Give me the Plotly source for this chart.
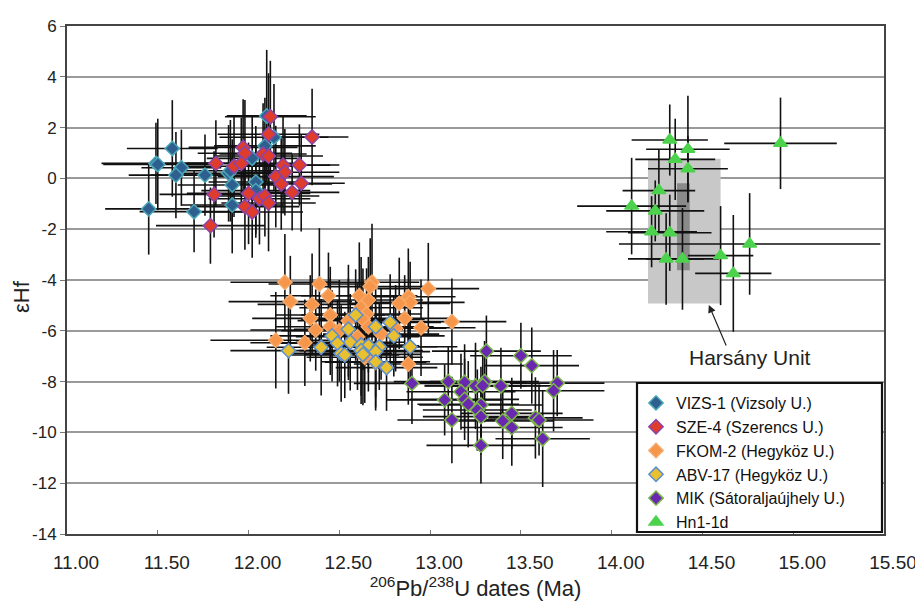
import plotly.graph_objects as go

# ---------------- data ----------------
vizs_x = [12.10, 12.14, 12.09, 12.02, 11.58, 11.49, 11.50, 11.63, 11.60, 11.76, 11.89, 11.90, 11.91, 12.04, 12.04, 11.91, 11.45, 11.70]
vizs_y = [2.46, 1.62, 1.28, 0.79, 1.18, 0.59, 0.55, 0.42, 0.13, 0.13, 0.20, 0.30, -0.26, -0.14, -0.48, -1.05, -1.20, -1.31]
vizs_xe = [0.22, 0.30, 0.28, 0.25, 0.25, 0.30, 0.30, 0.22, 0.26, 0.30, 0.32, 0.28, 0.30, 0.26, 0.30, 0.28, 0.24, 0.30]
vizs_ye = [2.6, 2.1, 1.9, 1.7, 1.9, 1.6, 1.8, 1.5, 1.7, 1.6, 1.9, 2.0, 1.8, 2.2, 1.7, 1.9, 1.8, 1.6]

sze_x = [12.12, 12.35, 12.11, 11.97, 11.98, 12.08, 12.11, 11.82, 11.92, 11.96, 12.19, 12.28, 12.20, 12.15, 12.18, 12.29, 12.24, 11.81, 12.00, 12.06, 12.09, 12.11, 11.98, 12.02, 11.79]
sze_y = [2.43, 1.63, 1.74, 1.22, 0.99, 0.96, 0.88, 0.59, 0.48, 0.59, 0.52, 0.53, 0.24, 0.07, -0.22, -0.19, -0.55, -0.63, -0.59, -0.80, -0.69, -0.97, -1.11, -1.32, -1.86]
sze_xe = [0.25, 0.20, 0.28, 0.30, 0.26, 0.24, 0.30, 0.28, 0.32, 0.30, 0.26, 0.22, 0.30, 0.32, 0.28, 0.24, 0.26, 0.30, 0.34, 0.28, 0.30, 0.26, 0.30, 0.28, 0.30]
sze_ye = [2.2, 1.9, 2.4, 1.9, 2.1, 2.0, 1.6, 1.7, 2.0, 1.8, 1.9, 1.6, 1.7, 2.0, 1.8, 1.9, 1.5, 1.7, 2.0, 1.8, 1.6, 1.9, 1.7, 1.8, 1.5]

fkom_x = [12.20, 12.39, 12.44, 12.23, 12.35, 12.68, 12.67, 12.99, 12.61, 12.66, 12.88, 12.89, 12.83, 12.62, 12.45, 12.34, 12.55,
          12.65, 12.63, 12.86, 12.45, 12.37, 12.50, 12.66, 12.81, 12.95, 12.73, 12.60, 12.15, 12.31, 12.64, 12.88, 12.70, 13.12]
fkom_y = [-4.09, -4.16, -4.62, -4.85, -4.96, -4.09, -4.26, -4.34, -4.62, -4.79, -4.66, -4.88, -4.92, -5.09, -5.38, -5.51, -5.60,
          -5.34, -5.55, -5.51, -5.84, -5.97, -6.00, -5.84, -5.90, -5.88, -6.13, -6.23, -6.37, -6.47, -7.04, -7.31, -7.24, -5.64]
fkom_xe = [0.30, 0.28, 0.32, 0.34, 0.30, 0.26, 0.30, 0.28, 0.32, 0.30, 0.26, 0.30, 0.28, 0.34, 0.30, 0.32, 0.28,
           0.30, 0.34, 0.28, 0.30, 0.36, 0.32, 0.30, 0.28, 0.30, 0.32, 0.34, 0.36, 0.30, 0.32, 0.30, 0.28, 0.30]
fkom_ye = [1.9, 2.2, 1.7, 1.8, 2.0, 2.3, 1.9, 1.8, 2.1, 1.7, 1.9, 1.6, 1.8, 2.0, 1.9, 1.7, 2.2,
           1.8, 2.0, 1.7, 1.9, 1.6, 2.0, 1.8, 1.7, 1.9, 1.8, 2.1, 1.9, 1.7, 1.8, 1.6, 1.9, 1.7]

abv_x = [12.59, 12.78, 12.70, 12.55, 12.46, 12.80, 12.56, 12.49, 12.62, 12.66, 12.72, 12.89, 12.40, 12.22, 12.62, 12.70, 12.51, 12.53, 12.63, 12.70, 12.76]
abv_y = [-5.38, -5.67, -5.84, -5.94, -6.20, -6.20, -6.45, -6.49, -6.56, -6.59, -6.63, -6.63, -6.65, -6.78, -6.78, -6.82, -6.89, -6.95, -6.93, -7.22, -7.45]
abv_xe = [0.30, 0.28, 0.32, 0.30, 0.34, 0.28, 0.30, 0.32, 0.30, 0.28, 0.32, 0.26, 0.30, 0.32, 0.34, 0.30, 0.28, 0.30, 0.32, 0.30, 0.28]
abv_ye = [1.8, 1.9, 1.7, 2.0, 1.8, 1.6, 1.9, 1.7, 2.0, 1.8, 1.7, 1.6, 1.9, 1.7, 2.1, 1.8, 1.9, 1.7, 2.0, 1.8, 1.7]

mik_x = [13.31, 13.50, 13.56, 12.90, 13.10, 13.19, 13.25, 13.30, 13.29, 13.39, 13.70, 13.68, 13.17, 13.08, 13.19, 13.21, 13.28,
         13.26, 13.45, 13.28, 13.12, 13.40, 13.58, 13.60, 13.45, 13.62, 13.28]
mik_y = [-6.80, -6.98, -7.37, -8.07, -8.00, -8.03, -8.17, -8.00, -8.16, -8.17, -8.06, -8.36, -8.40, -8.72, -8.70, -8.89, -8.92,
         -9.12, -9.25, -9.38, -9.51, -9.55, -9.43, -9.51, -9.81, -10.25, -10.51]
mik_xe = [0.30, 0.28, 0.26, 0.32, 0.30, 0.34, 0.28, 0.30, 0.32, 0.30, 0.26, 0.28, 0.30, 0.32, 0.30, 0.28, 0.34,
          0.30, 0.28, 0.32, 0.30, 0.28, 0.26, 0.30, 0.28, 0.26, 0.30]
mik_ye = [1.4, 1.3, 1.5, 1.6, 1.4, 1.5, 1.7, 1.6, 1.4, 1.5, 1.3, 1.6, 1.5, 1.4, 1.6, 1.7, 1.5,
          1.6, 1.4, 1.5, 1.7, 1.5, 1.6, 1.4, 1.5, 1.9, 1.5]

hn_x = [14.32, 14.42, 14.93, 14.35, 14.42, 14.26, 14.11, 14.24, 14.22, 14.32, 14.76, 14.60, 14.30, 14.39, 14.67]
hn_y = [1.51, 1.15, 1.38, 0.75, 0.38, -0.48, -1.09, -1.28, -2.10, -2.14, -2.58, -3.04, -3.17, -3.17, -3.74]
hn_xe = [0.21, 0.23, 0.31, 0.22, 0.22, 0.20, 0.30, 0.27, 0.25, 0.23, 0.72, 0.18, 0.21, 0.20, 0.21]
hn_ye = [1.4, 2.1, 1.8, 1.6, 1.3, 1.6, 1.9, 1.2, 1.4, 1.5, 2.0, 1.95, 1.8, 2.0, 2.3]

harsany_outer = [14.20, 14.60, -4.93, 0.77]   # x0, x1, y0, y1
harsany_inner = [14.36, 14.43, -3.62, -0.19]

y_tick_vals = [-14, -12, -10, -8, -6, -4, -2, 0, 2, 4, 6]
y_tick_labels = ["-14", "-12", "-10", "-8", "-6", "-4", "-2", "0", "2", "4", "6"]

series = [
    ("VIZS-1 (Vizsoly U.)", vizs_x, vizs_y, vizs_xe, vizs_ye, "diamond", "#2f5f8f", "#4aa8b8", 11),
    ("SZE-4 (Szerencs U.)", sze_x, sze_y, sze_xe, sze_ye, "diamond", "#e03c2c", "#8a44a8", 11),
    ("FKOM-2 (Hegyköz U.)", fkom_x, fkom_y, fkom_xe, fkom_ye, "diamond", "#f5964a", "#f7a868", 11),
    ("ABV-17 (Hegyköz U.)", abv_x, abv_y, abv_xe, abv_ye, "diamond", "#e8c030", "#5b8fd0", 11),
    ("MIK (Sátoraljaújhely U.)", mik_x, mik_y, mik_xe, mik_ye, "diamond", "#6a28b0", "#7ab648", 11),
    ("Hn1-1d", hn_x, hn_y, hn_xe, hn_ye, "triangle-up", "#4cd24c", "#4cd24c", 12),
]

fig = go.Figure()

# error bars first (behind all markers)
for name, xs, ys, xe, ye, sym, fill, line, size in series:
    fig.add_trace(go.Scatter(
        x=xs, y=ys, mode="markers", showlegend=False, hoverinfo="skip",
        marker=dict(size=1, color="rgba(0,0,0,0)"),
        error_x=dict(type="data", array=xe, color="#111111", thickness=1.6, width=0),
        error_y=dict(type="data", array=ye, color="#111111", thickness=1.6, width=0),
    ))

for name, xs, ys, xe, ye, sym, fill, line, size in series:
    fig.add_trace(go.Scatter(
        x=xs, y=ys, mode="markers", name=name,
        marker=dict(symbol=sym, size=size, color=fill, line=dict(color=line, width=1.5)),
    ))

# Harsány Unit boxes
fig.add_shape(type="rect", xref="x", yref="y", layer="between",
              x0=harsany_outer[0], x1=harsany_outer[1], y0=harsany_outer[2], y1=harsany_outer[3],
              fillcolor="#c8c8c8", line=dict(width=0))
fig.add_shape(type="rect", xref="x", yref="y", layer="between",
              x0=harsany_inner[0], x1=harsany_inner[1], y0=harsany_inner[2], y1=harsany_inner[3],
              fillcolor="#8a8a8a", line=dict(width=0))

# legend box
fig.add_shape(type="rect", xref="paper", yref="paper", layer="above",
              x0=(637 - 67) / 817, x1=(882 - 67) / 817, y0=(534 - 532) / 508, y1=(534 - 383) / 508,
              fillcolor="white", line=dict(color="#111111", width=2.2))

# arrow + label
fig.add_annotation(x=14.535, y=-4.98, xref="x", yref="y", ax=18, ay=42, text="",
                   showarrow=True, arrowhead=2, arrowsize=1.3, arrowwidth=1.2, arrowcolor="#222")
fig.add_annotation(x=(750 - 67) / 817, y=(534 - 357) / 508, xref="paper", yref="paper",
                   xanchor="center", yanchor="middle",
                   text="Harsány Unit", showarrow=False, font=dict(size=21, color="#222"))
# y-axis title
fig.add_annotation(x=(22 - 67) / 817, y=(534 - 297) / 508, xref="paper", yref="paper",
                   xanchor="center", yanchor="middle",
                   text="εHf", textangle=-90, showarrow=False, font=dict(size=22, color="#222"))

# the page body adds an 8px margin, so the figure is sized/offset to compensate
font_family = "Liberation Sans, Arial, sans-serif"
fig.update_layout(
    width=915, height=593,
    margin=dict(l=59, r=39, t=18, b=67),
    paper_bgcolor="white", plot_bgcolor="white",
    font=dict(family=font_family, color="#222", size=16),
    showlegend=True,
    legend=dict(x=(636 - 67) / 817, y=(534 - 386) / 508, xanchor="left", yanchor="top",
                bgcolor="rgba(0,0,0,0)", borderwidth=0, font=dict(size=16, color="#111"),
                itemwidth=30, tracegroupgap=0),
    xaxis=dict(range=[11, 15.5], tickmode="linear", tick0=11, dtick=0.5, tickformat=".2f",
               showgrid=False, zeroline=False, showline=True, linecolor="#444", linewidth=2, mirror=True,
               ticks="inside", ticklen=4, tickcolor="#777", tickfont=dict(size=19), ticklabelshift=9,
               ticklabelstandoff=10, automargin=False,
               title=dict(text="<sup>206</sup>Pb/<sup>238</sup>U dates (Ma)", font=dict(size=22), standoff=13)),
    yaxis=dict(range=[-14, 6], tickmode="array", tickvals=y_tick_vals, ticktext=y_tick_labels,
               showgrid=True, gridcolor="#9a9a9a", gridwidth=1.5, zeroline=False,
               showline=True, linecolor="#444", linewidth=2, mirror=True,
               ticks="outside", ticklen=5, tickcolor="#777", tickfont=dict(size=17),
               automargin=False),
)

fig.write_html("out.html")
